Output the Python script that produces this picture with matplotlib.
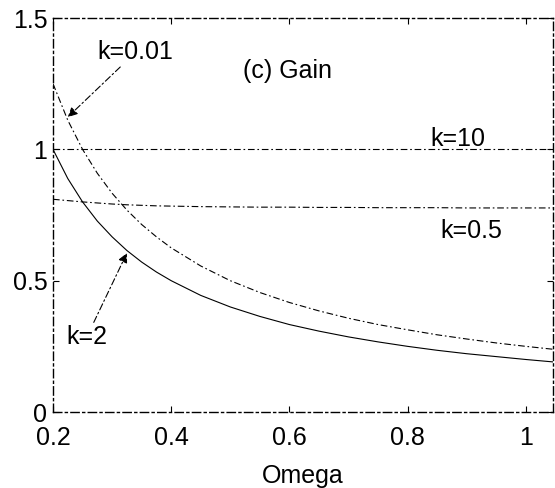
import matplotlib
matplotlib.use("Agg")
import matplotlib.pyplot as plt

plt.rcParams['font.family'] = ['Liberation Sans', 'DejaVu Sans']

omega = [0.200, 0.225, 0.250, 0.275, 0.300, 0.325, 0.350, 0.375, 0.400, 0.450,
         0.500, 0.550, 0.600, 0.650, 0.700, 0.750, 0.800, 0.850, 0.900, 0.950,
         1.000, 1.050]
gain_k001 = [1.250, 1.111, 1.000, 0.909, 0.833, 0.769, 0.714, 0.667, 0.625, 0.556,
             0.500, 0.455, 0.417, 0.385, 0.357, 0.333, 0.313, 0.294, 0.278, 0.263,
             0.250, 0.238]
gain_k2 = [1.000, 0.889, 0.800, 0.727, 0.667, 0.615, 0.571, 0.533, 0.500, 0.444,
           0.400, 0.364, 0.333, 0.308, 0.286, 0.267, 0.250, 0.235, 0.222, 0.211,
           0.200, 0.190]
gain_k10 = [1.0] * len(omega)
gain_k05 = [0.810, 0.805, 0.800, 0.796, 0.792, 0.789, 0.787, 0.785, 0.784, 0.782,
            0.781, 0.780, 0.780, 0.779, 0.779, 0.778, 0.778, 0.778, 0.777, 0.777,
            0.777, 0.777]

xticks = [0.2, 0.4, 0.6, 0.8, 1.0]
xticklabels = ["0.2", "0.4", "0.6", "0.8", "1"]
yticks = [0, 0.5, 1.0, 1.5]
yticklabels = ["0", "0.5", "1", "1.5"]

dashdot = (0, (6, 2.5, 1.5, 2.5))
fs = 18

fig = plt.figure(figsize=(5.55, 4.88), dpi=100)
ax = fig.add_axes([0.0955, 0.1557, 0.9009, 0.8073])

ax.plot(omega, gain_k001, color='black', lw=0.8, linestyle=dashdot)
ax.plot(omega, gain_k2, color='black', lw=0.8, linestyle='-')
ax.plot(omega, gain_k10, color='black', lw=0.8, linestyle=dashdot)
ax.plot(omega, gain_k05, color='black', lw=0.8, linestyle=dashdot)

ax.set_xlim(0.2, 1.046)
ax.set_ylim(0, 1.5)
ax.set_xticks(xticks)
ax.set_xticklabels(xticklabels)
ax.set_yticks(yticks)
ax.set_yticklabels(yticklabels)
ax.tick_params(direction='in', length=4, width=0.8, labelsize=fs,
               top=True, right=True)
ax.tick_params(axis='x', pad=10)
ax.tick_params(axis='y', pad=4)
for s in ax.spines.values():
    s.set_linestyle(dashdot)
    s.set_linewidth(1.0)
ax.set_xlabel("Omega", fontsize=fs, labelpad=10)

arrowprops = dict(arrowstyle='-|>', color='black', lw=0.8, linestyle=dashdot,
                  mutation_scale=14, shrinkA=0, shrinkB=0)
ax.annotate("k=0.01", xy=(0.225, 1.123), xytext=(0.34, 1.37),
            fontsize=fs, ha='center', va='center', arrowprops=arrowprops)
ax.annotate("k=2", xy=(0.325, 0.605), xytext=(0.257, 0.285),
            fontsize=fs, ha='center', va='center', arrowprops=arrowprops)
ax.text(0.597, 1.30, "(c) Gain", fontsize=fs, ha='center', va='center')
ax.text(0.885, 1.04, "k=10", fontsize=fs, ha='center', va='center')
ax.text(0.908, 0.69, "k=0.5", fontsize=fs, ha='center', va='center')

fig.savefig("out.png", dpi=100)
